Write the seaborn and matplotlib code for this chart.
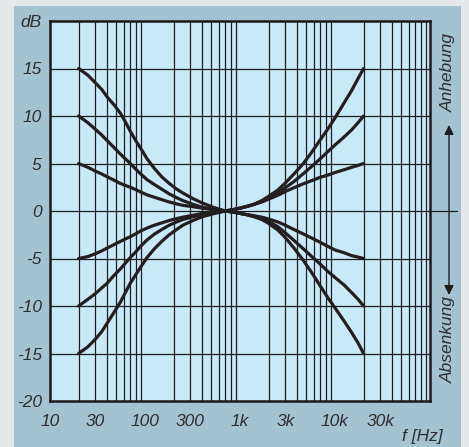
import matplotlib
matplotlib.use("Agg")
import matplotlib.pyplot as plt
from matplotlib.patches import Rectangle
import seaborn as sns
import pandas as pd

# frequency grid (Hz) the curves were read at
freqs = [20, 25, 30, 35, 40, 47, 55, 62, 70, 80, 90, 105, 125, 150, 180,
         215, 250, 320, 400, 520, 700,
         850, 1000, 1200, 1400, 1700, 2000, 2500, 3000, 3700, 4600, 5700,
         7000, 8500, 10000, 12500, 15000, 17500, 20000]

boost_15 = [15, 14.3, 13.5, 12.8, 12.0, 11.2, 10.3, 9.4, 8.4, 7.4, 6.6,
            5.5, 4.5, 3.6, 2.9, 2.3, 1.9, 1.3, 0.85, 0.4, 0,
            0.15, 0.3, 0.5, 0.7, 1.1, 1.55, 2.2, 2.95, 3.9, 4.95, 6.2,
            7.5, 8.7, 9.8, 11.4, 12.7, 13.95, 15]
boost_10 = [10, 9.3, 8.6, 8.0, 7.4, 6.7, 6.0, 5.5, 5.0, 4.4, 3.9,
            3.3, 2.8, 2.3, 1.8, 1.4, 1.1, 0.7, 0.4, 0.2, 0,
            0.15, 0.3, 0.5, 0.7, 1.0, 1.4, 1.9, 2.45, 3.1, 3.9, 4.7,
            5.5, 6.3, 6.95, 7.8, 8.55, 9.3, 10]
boost_5 = [5, 4.6, 4.2, 3.9, 3.6, 3.25, 2.9, 2.7, 2.5, 2.25, 2.0,
           1.7, 1.45, 1.2, 0.95, 0.75, 0.6, 0.45, 0.3, 0.15, 0,
           0.15, 0.3, 0.5, 0.7, 0.95, 1.25, 1.65, 2.05, 2.45, 2.85, 3.2,
           3.55, 3.8, 4.05, 4.35, 4.6, 4.8, 5]
cut_5 = [-5, -4.8, -4.5, -4.2, -3.9, -3.55, -3.2, -2.95, -2.7, -2.4, -2.1,
         -1.8, -1.5, -1.25, -1.0, -0.8, -0.65, -0.45, -0.25, -0.12, 0,
         -0.12, -0.25, -0.38, -0.5, -0.65, -0.85, -1.15, -1.5, -1.95, -2.4,
         -2.85, -3.3, -3.75, -4.1, -4.4, -4.7, -4.85, -5]
cut_10 = [-10, -9.3, -8.7, -8.1, -7.6, -6.8, -6.1, -5.5, -4.9, -4.3, -3.7,
          -3.05, -2.45, -1.95, -1.5, -1.15, -0.9, -0.6, -0.35, -0.15, 0,
          -0.12, -0.25, -0.4, -0.55, -0.8, -1.1, -1.65, -2.3, -3.1, -3.95,
          -4.8, -5.6, -6.4, -7.0, -7.8, -8.6, -9.3, -10]
cut_15 = [-15, -14.3, -13.5, -12.7, -11.8, -10.7, -9.6, -8.6, -7.6, -6.7,
          -5.9, -4.9, -4.0, -3.2, -2.5, -1.95, -1.5, -1.0, -0.6, -0.3, 0,
          -0.12, -0.25, -0.42, -0.6, -0.9, -1.3, -2.0, -2.8, -3.9, -5.15,
          -6.5, -7.9, -9.2, -10.2, -11.6, -12.8, -13.9, -15]

curves = {"+15": boost_15, "+10": boost_10, "+5": boost_5,
          "-5": cut_5, "-10": cut_10, "-15": cut_15}

xtick_pos = [10, 30, 100, 300, 1000, 3000, 10000, 30000]
xtick_labels = ["10", "30", "100", "300", "1k", "3k", "10k", "30k"]
ytick_pos = [-20, -15, -10, -5, 0, 5, 10, 15, 20]
ytick_labels = ["-20", "-15", "-10", "-5", "0", "5", "10", "15", "dB"]

rows = []
for name, vals in curves.items():
    for f, v in zip(freqs, vals):
        rows.append({"curve": name, "f": f, "dB": v})
df = pd.DataFrame(rows)

sns.set_style("white")
plt.rcParams["font.family"] = ["Liberation Sans", "DejaVu Sans"]

W, H = 469, 447
fig = plt.figure(figsize=(W / 100, H / 100), dpi=100, facecolor="#e6e8ea")
# blue-grey panel behind the chart
fig.patches.append(Rectangle((14 / W, 0), (461 - 14) / W, (447 - 6) / H,
                             transform=fig.transFigure, facecolor="#a4c3d2",
                             edgecolor="none", zorder=-10))

ax = fig.add_axes([50 / W, (H - 401) / H, 380 / W, 380 / H])
ax.set_facecolor("#c8e9f8")
ax.set_xscale("log")
ax.set_xlim(10, 100000)
ax.set_ylim(-20, 20)

# grid: every 1..9 x decade vertically, every 5 dB horizontally
grid_kw = dict(color="#1e1e1e", lw=0.9, zorder=1)
for dec in [10, 100, 1000, 10000]:
    for m in range(2, 10):
        ax.axvline(dec * m, **grid_kw)
for y in ytick_pos[1:-1]:
    if y != 0:
        ax.axhline(y, **grid_kw)
# zero line runs out past the frame to the arrow
ax.axhline(0, xmin=0, xmax=(457 - 50) / 380, clip_on=False, **grid_kw)

sns.lineplot(data=df, x="f", y="dB", hue="curve", palette=["#231f20"] * 6,
             legend=False, lw=2.3, ax=ax, zorder=3)

for s in ax.spines.values():
    s.set_visible(True)
    s.set_color("#1a1a1a")
    s.set_linewidth(1.8)
    s.set_zorder(4)

ax.set_xticks(xtick_pos)
ax.set_xticklabels(xtick_labels)
ax.set_xticks([], minor=True)
ax.set_yticks(ytick_pos)
ax.set_yticklabels(ytick_labels)
ax.tick_params(length=0, labelsize=12.5, colors="#2e2e2e")
ax.tick_params(axis="x", pad=9)
ax.tick_params(axis="y", pad=6)
for lbl in ax.get_xticklabels() + ax.get_yticklabels():
    lbl.set_fontstyle("italic")
ax.set_xlabel("")
ax.set_ylabel("")

fig.text(443 / W, (H - 437) / H, "f [Hz]", ha="right", va="center",
         fontsize=12.5, style="italic", color="#2e2e2e")

# boost / cut arrows at the right edge
ax.annotate("", xy=(449, H - 125), xytext=(449, H - 295),
            xycoords="figure pixels", textcoords="figure pixels",
            annotation_clip=False,
            arrowprops=dict(arrowstyle="<|-|>", color="#1e1e1e", lw=1.0,
                            mutation_scale=14, shrinkA=0, shrinkB=0))
fig.text(448 / W, (H - 73) / H, "Anhebung", rotation=90, ha="center",
         va="center", fontsize=12.5, style="italic", color="#2e2e2e")
fig.text(448 / W, (H - 340) / H, "Absenkung", rotation=90, ha="center",
         va="center", fontsize=12.5, style="italic", color="#2e2e2e")

fig.savefig("out.png", dpi=100, facecolor=fig.get_facecolor())
